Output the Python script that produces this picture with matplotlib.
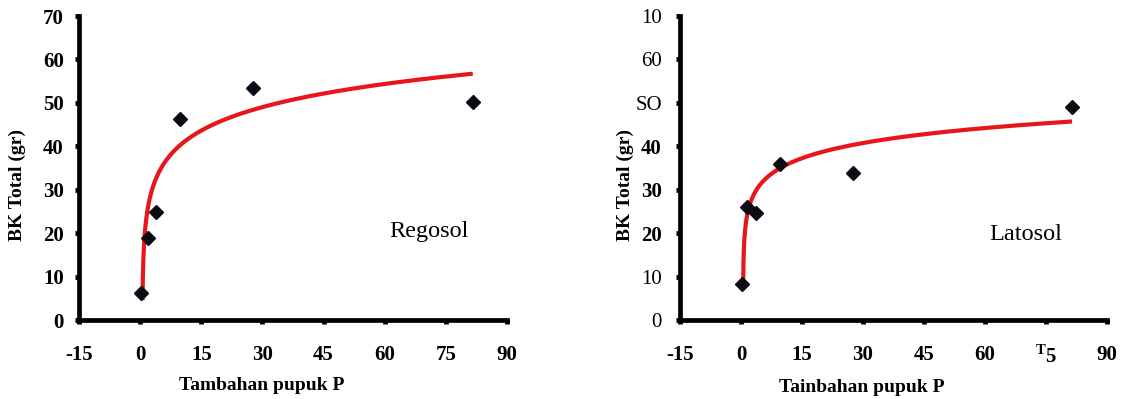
import numpy as np
import matplotlib
matplotlib.use("Agg")
import matplotlib.pyplot as plt

plt.rcParams['font.family'] = ['Liberation Serif', 'DejaVu Serif']
plt.rcParams['mathtext.fontset'] = 'custom'
plt.rcParams['mathtext.rm'] = 'Liberation Serif:bold'
plt.rcParams['mathtext.bf'] = 'Liberation Serif:bold'

# ---- data ----
x_ticks = [-15, 0, 15, 30, 45, 60, 75, 90]
y_ticks = [0, 10, 20, 30, 40, 50, 60, 70]

left_xticklabels = ["-15", "0", "15", "30", "45", "60", "75", "90"]
left_yticklabels = ["0", "10", "20", "30", "40", "50", "60", "70"]
right_xticklabels = ["-15", "0", "15", "30", "45", "60", r"$^{\mathrm{T}}$5", "90"]
right_yticklabels = ["0", "10", "20", "30", "40", "SO", "60", "10"]
right_ybold = [False, False, True, True, True, False, False, False]

regosol_x = [0.3, 1.9, 3.9, 9.7, 27.6, 81.6]
regosol_y = [6.3, 18.8, 24.9, 46.3, 53.4, 50.1]
latosol_x = [0.2, 1.5, 3.7, 9.5, 27.5, 81.4]
latosol_y = [8.4, 26.1, 24.6, 35.9, 33.9, 49.1]

# logarithmic trend lines: y = a*ln(x - shift) + b
regosol_fit = dict(a=7.6, b=23.3, shift=0.5, x_start=0.585, x_end=81.6)
latosol_fit = dict(a=4.92, b=24.1, shift=0.5, x_start=0.543, x_end=81.4)

left_ylabel = "BK Total (gr)"
right_ylabel = "BK Total (gr)"
left_xlabel = "Tambahan pupuk P"
right_xlabel = "Tainbahan pupuk P"

fig = plt.figure(figsize=(11.26, 3.99), dpi=100)
W, H = 1126, 399


def make_axes(x0, x1, y0, y1):
    return fig.add_axes([x0 / W, 1 - y1 / H, (x1 - x0) / W, (y1 - y0) / H])


def style(ax):
    ax.set_xlim(-15, 90)
    ax.set_ylim(0, 70)
    for s in ['top', 'right']:
        ax.spines[s].set_visible(False)
    for s in ['left', 'bottom']:
        ax.spines[s].set_linewidth(3.4)
        ax.spines[s].set_color('black')
        ax.spines[s].set_capstyle('projecting')
    ax.set_xticks(x_ticks)
    ax.set_yticks(y_ticks)
    ax.tick_params(axis='x', direction='out', length=3, width=3.5, pad=15, labelsize=15)
    ax.tick_params(axis='y', direction='out', length=3, width=3.5, pad=8, labelsize=15)


def draw(ax, xs, ys, fit):
    xf = fit['shift'] + np.geomspace(fit['x_start'] - fit['shift'], fit['x_end'] - fit['shift'], 400)
    yf = fit['a'] * np.log(xf - fit['shift']) + fit['b']
    ax.plot(xf, yf, color='#e8161b', lw=3.0, solid_capstyle='butt', zorder=2)
    ax.plot(xs, ys, linestyle='none', marker='D', ms=7.5, color='#0b0b14', zorder=3, clip_on=False)


axL = make_axes(79, 507, 16, 320)
style(axL)
draw(axL, regosol_x, regosol_y, regosol_fit)
axL.set_xticklabels(left_xticklabels, fontweight='bold')
axL.set_yticklabels(left_yticklabels, fontweight='bold')
axL.text(70.9, 20.3, "Regosol", ha='center', va='center', fontsize=17.5)

axR = make_axes(680, 1107, 16, 320)
style(axR)
draw(axR, latosol_x, latosol_y, latosol_fit)
axR.set_xticklabels(right_xticklabels, fontweight='bold')
axR.set_yticklabels(right_yticklabels)
for lab, b in zip(axR.get_yticklabels(), right_ybold):
    lab.set_fontweight('bold' if b else 'normal')
axR.tick_params(axis='y', pad=10)
axR.text(70.0, 19.8, "Latosol", ha='center', va='center', fontsize=17.5)

# axis titles
fig.text(262 / W, 1 - 386 / H, left_xlabel, ha='center', va='center', fontsize=14, fontweight='bold')
fig.text(862 / W, 1 - 387 / H, right_xlabel, ha='center', va='center', fontsize=14, fontweight='bold')
fig.text(17 / W, 1 - 185 / H, left_ylabel, ha='center', va='center', rotation=90, fontsize=14, fontweight='bold')
fig.text(625 / W, 1 - 185 / H, right_ylabel, ha='center', va='center', rotation=90, fontsize=14, fontweight='bold')

fig.savefig("out.png", dpi=100, facecolor='white')
